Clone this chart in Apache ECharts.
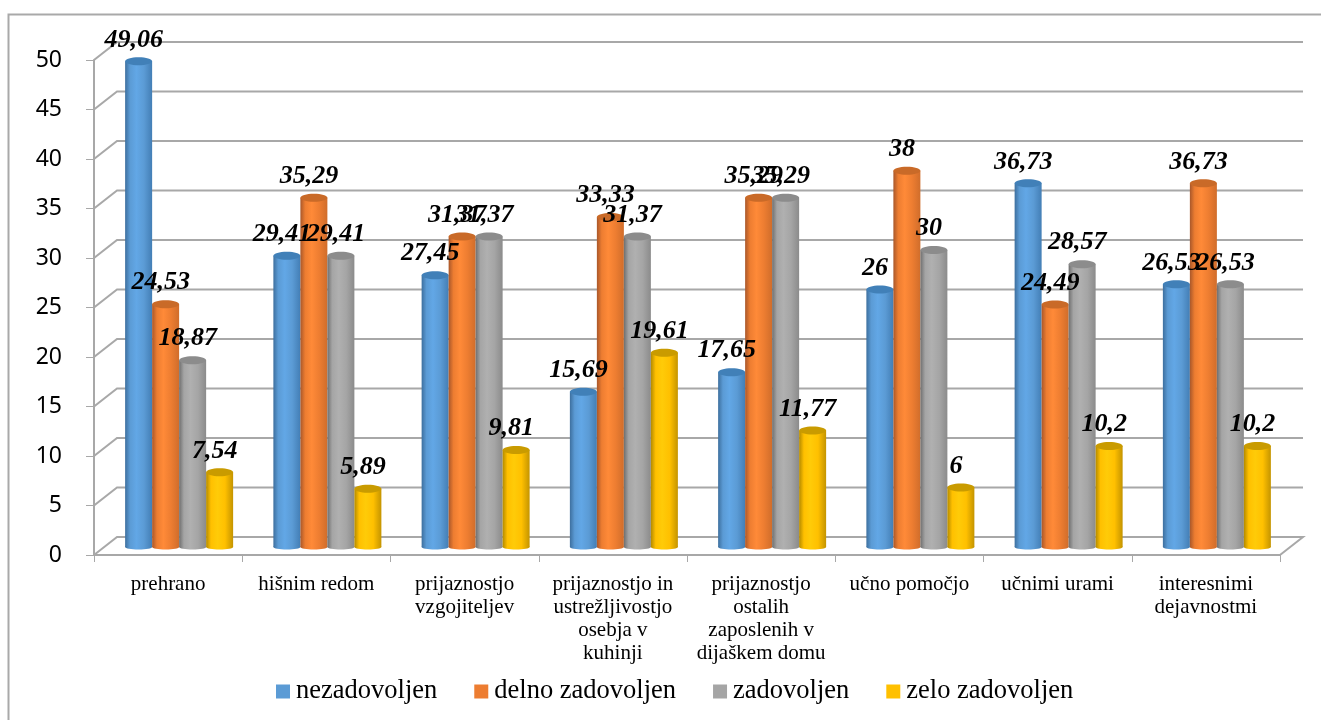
<!DOCTYPE html>
<html><head><meta charset="utf-8">
<style>html,body{margin:0;padding:0;background:#fff}#c{width:1321px;height:720px}</style>
<script src="https://cdn.jsdelivr.net/npm/echarts@6/dist/echarts.min.js"></script>
</head><body><div id="c"></div>
<script>
const categories = ['prehrano','hišnim redom','prijaznostjo\nvzgojiteljev','prijaznostjo in\nustrežljivostjo\nosebja v\nkuhinji','prijaznostjo\nostalih\nzaposlenih v\ndijaškem domu','učno pomočjo','učnimi urami','interesnimi\ndejavnostmi'];
const seriesNames = ['nezadovoljen','delno zadovoljen','zadovoljen','zelo zadovoljen'];
const nezadovoljen = [49.06,29.41,27.45,15.69,17.65,26,36.73,26.53];
const delnoZadovoljen = [24.53,35.29,31.37,33.33,35.29,38,24.49,36.73];
const zadovoljen = [18.87,29.41,31.37,31.37,35.29,30,28.57,26.53];
const zeloZadovoljen = [7.54,5.89,9.81,19.61,11.77,6,10.2,10.2];
const yTicks = [0,5,10,15,20,25,30,35,40,45,50];

const palette = [
  {base:'#5b9bd5',edge:'#3d6f9e',light:'#62a7e6',far:'#437eb5',top:'#4180b8'},
  {base:'#ed7d31',edge:'#a9572a',light:'#ff8a38',far:'#d06d2b',top:'#c96a28'},
  {base:'#a5a5a5',edge:'#6f6f6f',light:'#b0b0b0',far:'#8b8b8b',top:'#8c8c8c'},
  {base:'#ffc000',edge:'#b38a00',light:'#ffcb08',far:'#c49400',top:'#c99b00'}
];
const DEPTH_X = 23, DEPTH_Y = -18, BAR_DX = 11, BAR_DY = -8, BAR_W = 27, RY = 4;
const gridColor = '#a8a8a8';

function wallItem(params, api){
  const cs = params.coordSys;
  const y = api.coord([0, api.value(1)])[1];
  const pts = [[cs.x,y],[cs.x+DEPTH_X,y+DEPTH_Y],[cs.x+cs.width+DEPTH_X,y+DEPTH_Y]];
  if (api.value(1) === 0) pts.push([cs.x+cs.width,y]);
  return {type:'polyline',shape:{points:pts},style:{stroke:gridColor,lineWidth:2,fill:null},silent:true,z2:0};
}
function barRenderer(si){
  const c = palette[si];
  return function(params, api){
    const idx = api.value(0), val = api.value(1);
    const p = api.coord([idx, val]), p0 = api.coord([idx, 0]);
    const cx = p[0] + BAR_DX + (si-1.5)*BAR_W;
    const top = p[1] + BAR_DY, base = p0[1] + BAR_DY;
    const rx = BAR_W/2;
    const grad = new echarts.graphic.LinearGradient(0,0,1,0,[
      {offset:0,color:c.edge},{offset:0.18,color:c.base},{offset:0.42,color:c.light},
      {offset:0.7,color:c.base},{offset:1,color:c.far}]);
    return {type:'group',children:[
      {type:'ellipse',shape:{cx:cx,cy:base,rx:rx,ry:2.5},style:{fill:grad},z2:10+si},
      {type:'rect',shape:{x:cx-rx,y:top,width:BAR_W,height:base-top},style:{fill:grad},z2:10+si},
      {type:'ellipse',shape:{cx:cx,cy:top,rx:rx,ry:RY},style:{fill:c.top},z2:10+si},
      {type:'text',x:cx-5,y:top-21.5,z2:100,silent:true,style:{
        text:String(val).replace('.',','),font:'italic bold 26px "Liberation Serif"',fill:'#000',
        align:'center',verticalAlign:'middle'}}
    ]};
  };
}
const seriesData = [nezadovoljen,delnoZadovoljen,zadovoljen,zeloZadovoljen];
const chart = echarts.init(document.getElementById('c'),null,{renderer:'canvas'});
chart.setOption({
  animation:false,
  backgroundColor:'#fff',
  graphic:[{type:'polyline',shape:{points:[[8.5,720],[8.5,14.5],[1321,14.5]]},style:{stroke:'#a9a9a9',lineWidth:2,fill:null},silent:true}],
  legend:{show:true,left:276,top:678,padding:0,itemWidth:14,itemHeight:14,itemGap:37,icon:'rect',
    data:seriesNames,selectedMode:false,
    textStyle:{fontFamily:'Liberation Serif',fontSize:26.5,color:'#000',padding:[0,0,0,1]}},
  grid:{left:94,right:41,top:60,bottom:165},
  xAxis:{type:'category',data:categories,boundaryGap:true,
    axisLine:{lineStyle:{color:gridColor,width:2}},
    axisTick:{show:true,length:7,lineStyle:{color:gridColor,width:1}},
    axisLabel:{interval:0,margin:18,fontFamily:'Liberation Serif',fontSize:21,lineHeight:23,color:'#000',verticalAlign:'top'},
    splitLine:{show:false}},
  yAxis:{type:'value',min:0,max:50,interval:5,
    axisLine:{show:true,lineStyle:{color:gridColor,width:2}},
    axisTick:{show:true,length:8,lineStyle:{color:gridColor,width:1}},
    axisLabel:{margin:32,fontFamily:'Noto Sans',fontSize:23,color:'#000',padding:[4,0,0,0]},
    splitLine:{show:false}},
  series:[
    {type:'custom',name:'wall',silent:true,clip:false,data:yTicks.map(v=>[0,v]),encode:{x:0,y:1},renderItem:wallItem,z:1}
  ].concat(seriesData.map((arr,si)=>({
    type:'custom',name:seriesNames[si],clip:false,z:2,
    itemStyle:{color:palette[si].base},
    data:arr.map((v,i)=>[i,v]),encode:{x:0,y:1},renderItem:barRenderer(si)
  })))
});
</script></body></html>
